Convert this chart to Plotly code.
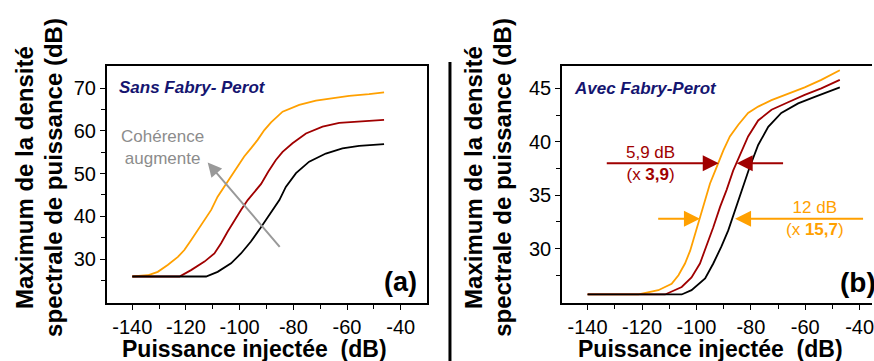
import plotly.graph_objects as go

# ---------------- data: panel (a) Sans Fabry-Perot ----------------
xa_orange = [-140, -134.2, -130.5, -126.8, -123.0, -120.6, -118.1, -115.6, -113.1, -110.6, -108.2, -105.7,
             -103.2, -100.7, -98.3, -95.8, -93.3, -90.8, -88.3, -84.0, -77.8, -71.6, -65.4, -59.2, -51.8, -46.2]
ya_orange = [25.9, 26.2, 27.0, 28.6, 30.5, 32.1, 34.4, 36.8, 39.1, 41.5, 44.6, 46.9,
             49.3, 51.6, 54.0, 55.9, 57.9, 60.2, 62.0, 64.5, 66.1, 67.1, 67.6, 68.2, 68.6, 69.0]
xa_red = [-140, -122.4, -118.1, -113.1, -109.4, -106.9, -104.5, -102.0, -99.5, -97.0, -94.5, -92.0,
          -89.3, -86.5, -84.0, -80.3, -75.3, -69.1, -62.9, -55.5, -46.2]
ya_red = [25.9, 25.9, 27.4, 29.4, 31.3, 33.7, 36.4, 39.1, 41.5, 43.8, 45.8, 47.6,
          50.5, 53.2, 55.1, 57.1, 59.4, 61.0, 61.9, 62.2, 62.6]
xa_black = [-140, -112.5, -108.2, -103.2, -99.5, -95.8, -92.3, -88.6, -85.2, -82.8, -79.0, -74.1,
            -67.9, -61.7, -55.5, -46.2]
ya_black = [25.9, 25.9, 27.0, 29.0, 31.3, 34.1, 37.2, 40.7, 43.8, 46.9, 50.1, 52.8,
            54.7, 55.9, 56.5, 56.9]

# ---------------- data: panel (b) Avec Fabry-Perot ----------------
xb_orange = [-140, -121.3, -114.0, -109.1, -106.6, -104.2, -102.3, -100.5, -98.7, -96.8, -95.0, -92.6,
             -90.1, -87.7, -84.6, -81.0, -77.3, -72.4, -66.3, -60.2, -54.1, -47.3]
yb_orange = [25.7, 25.7, 26.1, 26.7, 27.5, 28.6, 29.8, 31.4, 33.0, 34.5, 36.1, 37.6,
             39.2, 40.5, 41.6, 42.7, 43.3, 43.9, 44.5, 45.1, 45.8, 46.7]
xb_red = [-140, -111.5, -105.4, -101.8, -98.7, -96.3, -93.8, -91.3, -88.9, -86.5, -84.2, -81.0,
          -77.3, -72.4, -66.3, -60.2, -54.1, -47.3]
yb_red = [25.7, 25.7, 26.4, 27.3, 28.6, 30.2, 32.0, 33.9, 35.5, 37.3, 38.6, 40.5,
          42.0, 43.0, 43.7, 44.4, 45.0, 45.8]
xb_black = [-140, -105.4, -101.8, -96.8, -93.8, -90.8, -88.3, -85.8, -83.4, -80.6, -77.3, -73.6,
            -68.8, -62.6, -56.5, -47.3]
yb_black = [25.7, 25.7, 26.1, 27.2, 28.6, 30.2, 31.7, 33.6, 35.5, 37.5, 39.7, 41.4,
            42.7, 43.6, 44.2, 45.1]

x_ticks = [-140, -120, -100, -80, -60, -40]
x_ticktext = ["-140", "-120", "-100", "-80", "-60", "-40"]
ya_ticks = [30, 40, 50, 60, 70]
yb_ticks = [30, 35, 40, 45]

ORANGE = "#FFA000"
RED = "#A00000"
BLACK = "#000000"
GREY = "#999999"
NAVY = "#151570"
FONT = "Liberation Sans, Arial, sans-serif"

W, H = 874, 361
def px(x):
    return x / W
def py(y):
    return 1 - y / H

fig = go.Figure()
for xs, ys, c in [(xa_orange, ya_orange, ORANGE), (xa_red, ya_red, RED), (xa_black, ya_black, BLACK)]:
    fig.add_trace(go.Scatter(x=xs, y=ys, mode="lines", line=dict(color=c, width=1.8),
                             xaxis="x", yaxis="y", showlegend=False, hoverinfo="skip"))
for xs, ys, c in [(xb_orange, yb_orange, ORANGE), (xb_red, yb_red, RED), (xb_black, yb_black, BLACK)]:
    fig.add_trace(go.Scatter(x=xs, y=ys, mode="lines", line=dict(color=c, width=1.8),
                             xaxis="x2", yaxis="y2", showlegend=False, hoverinfo="skip"))

tickfont = dict(family=FONT, size=20, color="black")
common_x = dict(tickvals=x_ticks, ticktext=x_ticktext, ticks="outside", ticklen=5, tickwidth=1.2,
                tickcolor="black", showline=True, linecolor="black", linewidth=1.5, mirror=True,
                showgrid=False, zeroline=False, tickfont=tickfont, ticklabeloverflow="allow",
                minor=dict(tickvals=[-130, -110, -90, -70, -50], ticks="outside", ticklen=4,
                           tickcolor="black", showgrid=False))

fig.update_layout(
    width=W, height=H, margin=dict(l=0, r=0, t=0, b=0),
    paper_bgcolor="white", plot_bgcolor="white",
    xaxis=dict(domain=[px(107), px(428)], range=[-149.5, -30.2], anchor="y", **common_x),
    yaxis=dict(domain=[py(303), py(66)], range=[19.7, 75.2], anchor="x", tickvals=ya_ticks,
               ticks="outside", ticklen=5, tickwidth=1.2, tickcolor="black",
               showline=True, linecolor="black", linewidth=1.5, mirror=True, showgrid=False,
               zeroline=False, tickfont=tickfont,
               minor=dict(tickvals=[25, 35, 45, 55, 65], ticks="outside", ticklen=4,
                          tickcolor="black", showgrid=False)),
    xaxis2=dict(domain=[px(563.3), 1.0], range=[-149.4, -149.4 + (874 - 563.3) / 2.727],
                anchor="y2", **common_x),
    yaxis2=dict(domain=[py(303), py(66)], range=[24.9, 47.1], anchor="x2", tickvals=yb_ticks,
                ticks="outside", ticklen=5, tickwidth=1.2, tickcolor="black",
                showline=True, linecolor="black", linewidth=1.5, mirror=False, showgrid=False,
                zeroline=False, tickfont=tickfont,
                minor=dict(tickvals=[27.5, 32.5, 37.5, 42.5], ticks="outside", ticklen=4,
                           tickcolor="black", showgrid=False)),
)

# separator line
fig.add_shape(type="line", xref="paper", yref="paper", x0=px(451), x1=px(451), y0=py(62), y1=0,
              line=dict(color="black", width=3))

ann = []
title_font = dict(family=FONT, size=23, color="black")
# x axis titles
for cx in [255, 712]:
    ann.append(dict(xref="paper", yref="paper", x=px(cx), y=py(349), text="<b>Puissance injectée  (dB)</b>",
                    showarrow=False, xanchor="center", yanchor="middle", font=title_font))
# y axis titles (two lines each)
ytitle_font = dict(family=FONT, size=24, color="black")
for cx, txt in [(24, "<b>Maximum de la densité</b>"), (53, "<b>spectrale de puissance (dB)</b>"),
                (474, "<b>Maximum de la densité</b>"), (503, "<b>spectrale de puissance (dB)</b>")]:
    ann.append(dict(xref="paper", yref="paper", x=px(cx), y=py(177), text=txt, showarrow=False,
                    textangle=-90, xanchor="center", yanchor="middle", font=ytitle_font))

# panel titles
ann.append(dict(xref="paper", yref="paper", x=px(117), y=py(87), text="<b><i>Sans Fabry- Perot</i></b>",
                showarrow=False, xanchor="left", yanchor="middle",
                font=dict(family=FONT, size=17, color=NAVY)))
ann.append(dict(xref="paper", yref="paper", x=px(573), y=py(88), text="<b><i>Avec Fabry-Perot</i></b>",
                showarrow=False, xanchor="left", yanchor="middle",
                font=dict(family=FONT, size=17, color=NAVY)))
# panel letters
ann.append(dict(xref="paper", yref="paper", x=px(420), y=py(282), text="<b>(a)</b>", showarrow=False,
                xanchor="right", yanchor="middle", font=dict(family=FONT, size=27, color="black")))
ann.append(dict(xref="paper", yref="paper", x=px(840), y=py(282), text="<b>(b)</b>", showarrow=False,
                xanchor="left", yanchor="middle", font=dict(family=FONT, size=28, color="black")))

# panel (a) arrow + text
ann.append(dict(xref="x", yref="y", axref="x", ayref="y", x=-111.9, y=52.6, ax=-84.6, ay=32.5,
                text="", showarrow=True, arrowhead=2, arrowsize=1.4, arrowwidth=2, arrowcolor=GREY))
ann.append(dict(xref="x", yref="y", x=-128.7, y=56.2, text="Cohérence<br>augmente", showarrow=False,
                xanchor="center", yanchor="middle", font=dict(family=FONT, size=17, color="#8c8c8c")))

# panel (b) arrows + texts
arrow_specs = [
    (-91.8, 38.0, -133.5, 38.0, RED),
    (-85.2, 38.0, -67.6, 38.0, RED),
    (-98.7, 32.8, -114.6, 32.8, ORANGE),
    (-85.8, 32.8, -38.2, 32.8, ORANGE),
]
for x, y, ax, ay, c in arrow_specs:
    ann.append(dict(xref="x2", yref="y2", axref="x2", ayref="y2", x=x, y=y, ax=ax, ay=ay,
                    text="", showarrow=True, arrowhead=2, arrowsize=1.6, arrowwidth=2, arrowcolor=c))
ann.append(dict(xref="x2", yref="y2", x=-117.0, y=38.0, text="5,9 dB<br>(x <b>3,9</b>)", showarrow=False,
                xanchor="center", yanchor="middle", font=dict(family=FONT, size=17, color=RED)))
ann.append(dict(xref="x2", yref="y2", x=-56.6, y=32.8, text="12 dB<br>(x <b>15,7</b>)", showarrow=False,
                xanchor="center", yanchor="middle", font=dict(family=FONT, size=17, color=ORANGE)))

fig.update_layout(annotations=ann)
fig.write_html("out.html", config={"displayModeBar": False},
               post_script="document.body.style.margin='0px';")
